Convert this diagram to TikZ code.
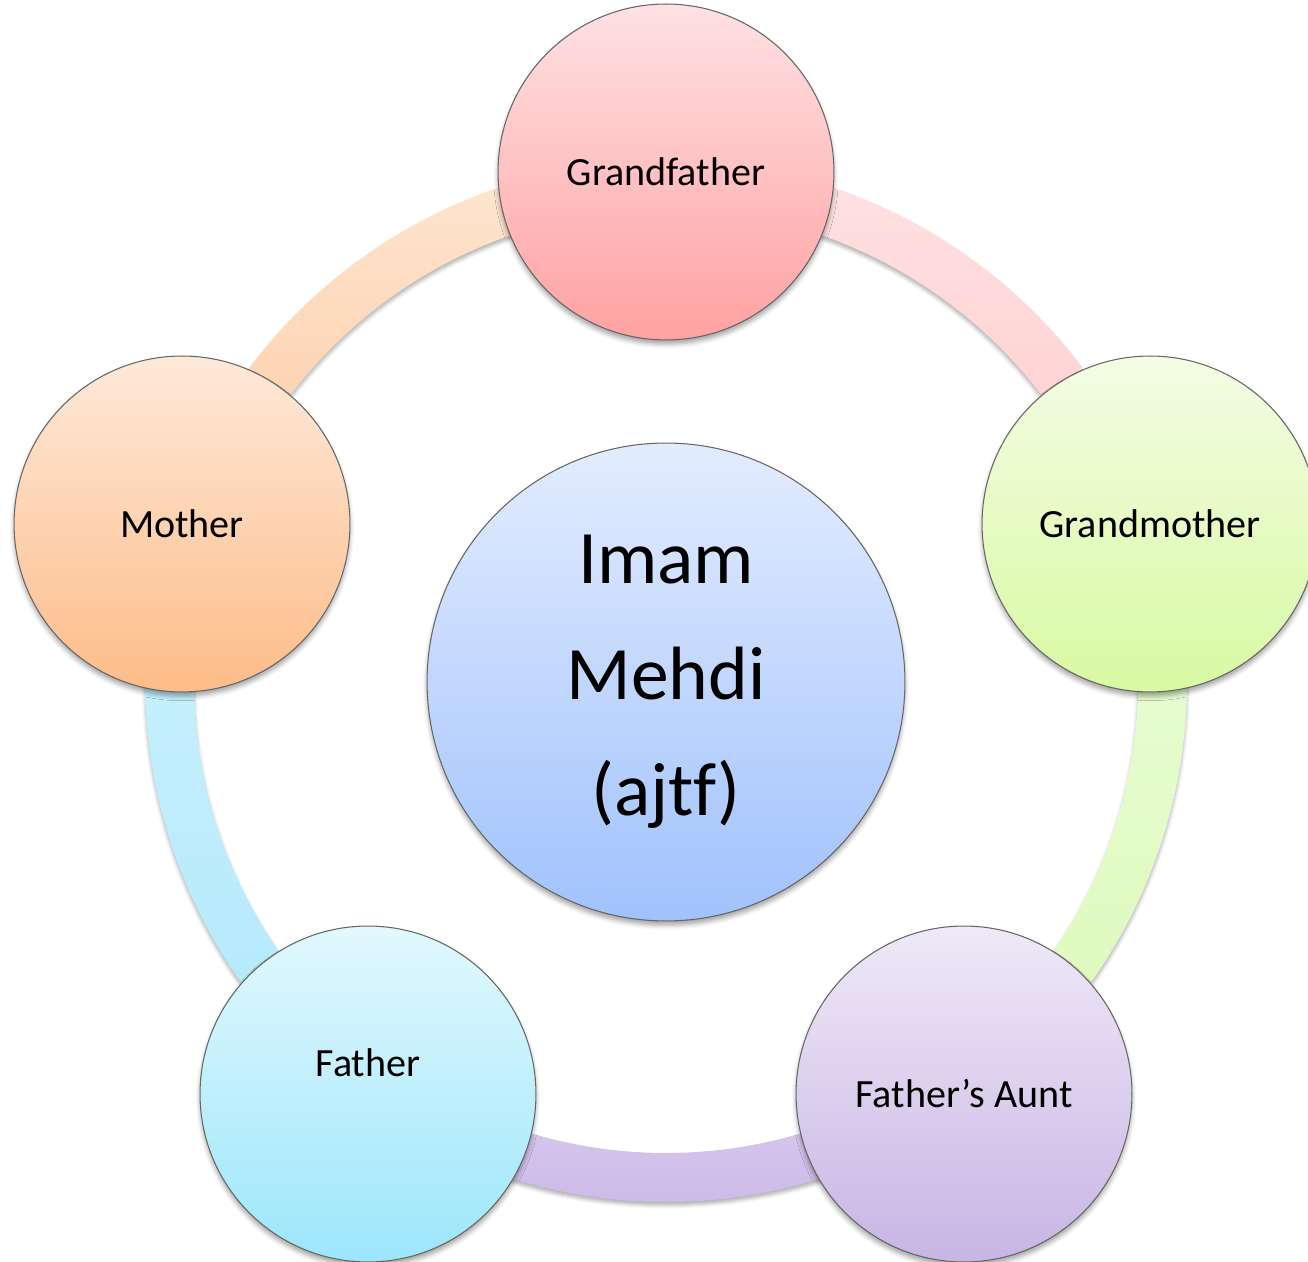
\documentclass[tikz,border=0pt]{standalone}
\usepackage{fontspec}
\setmainfont{Carlito}[Ligatures=NoCommon]
\usetikzlibrary{calc,shadows.blur}

\definecolor{gfTop}{HTML}{FFE1E3}
\definecolor{gfBot}{HTML}{FFA1A1}
\definecolor{gmTop}{HTML}{F2FDE4}
\definecolor{gmBot}{HTML}{D9F9A2}
\definecolor{auTop}{HTML}{EFE9F8}
\definecolor{auBot}{HTML}{C7B5E4}
\definecolor{faTop}{HTML}{E2F8FE}
\definecolor{faBot}{HTML}{9CE6FB}
\definecolor{moTop}{HTML}{FEE9D9}
\definecolor{moBot}{HTML}{FDBC88}
\definecolor{ctTop}{HTML}{E3ECFE}
\definecolor{ctBot}{HTML}{A0C2FD}

\definecolor{pinkTop}{HTML}{FFE2E2}
\definecolor{pinkBot}{HTML}{FFCACA}
\definecolor{greenTop}{HTML}{EAFDD8}
\definecolor{greenBot}{HTML}{DDF9B9}
\definecolor{purpleTop}{HTML}{DDD0F1}
\definecolor{purpleBot}{HTML}{C9B5E6}
\definecolor{blueTop}{HTML}{CDF2FF}
\definecolor{blueBot}{HTML}{B0E8FA}
\definecolor{orangeTop}{HTML}{FEE6D2}
\definecolor{orangeBot}{HTML}{FDC9A0}

\begin{document}
\begin{tikzpicture}[x=0.02cm, y=0.02cm]
    \useasboundingbox (0,0) rectangle (1308,1261);

    \tikzset{
        member/.style = {circle, draw=black!60, line width=0.6pt, minimum size=6.72cm,
            inner sep=0pt, font=\fontsize{22.8}{27}\selectfont,
            blur shadow={shadow xshift=0pt, shadow yshift=-2.5pt, shadow blur radius=2.5pt, shadow opacity=35}},
        core/.style = {member, minimum size=9.56cm, align=center,
            font=\fontsize{43}{66}\selectfont, top color=ctTop, bottom color=ctBot},
        band/.style = {blur shadow={shadow xshift=0pt, shadow yshift=-2pt, shadow blur radius=2pt, shadow opacity=30}},
    }

    \coordinate (ring) at (666,580);

    % ring segments between the circles
    \foreach \a/\c in {90/pink, 18/green, -54/purple, -126/blue, -198/orange}{
            \shade[band, top color=\c Top, bottom color=\c Bot]
            ($(ring)+(\a:521)$) arc[start angle=\a, end angle=\a-72, radius=521]
            -- ($(ring)+(\a-72:472)$) arc[start angle=\a-72, end angle=\a, radius=472] -- cycle;
        }

    \node[core] (imam) at (666,579) {Imam\\Mehdi\\(ajtf)};

    \node[member, top color=gfTop, bottom color=gfBot] (grandfather) at (666,1089) {Grandfather};
    \node[member, top color=gmTop, bottom color=gmBot] (grandmother) at (1150,737) {Grandmother};
    \node[member, top color=auTop, bottom color=auBot] (aunt) at (964,167) {Father’s Aunt};
    \node[member, top color=faTop, bottom color=faBot, text depth=36pt] (father) at (368,167) {Father};
    \node[member, top color=moTop, bottom color=moBot] (mother) at (182,737) {Mother};

\end{tikzpicture}
\end{document}
